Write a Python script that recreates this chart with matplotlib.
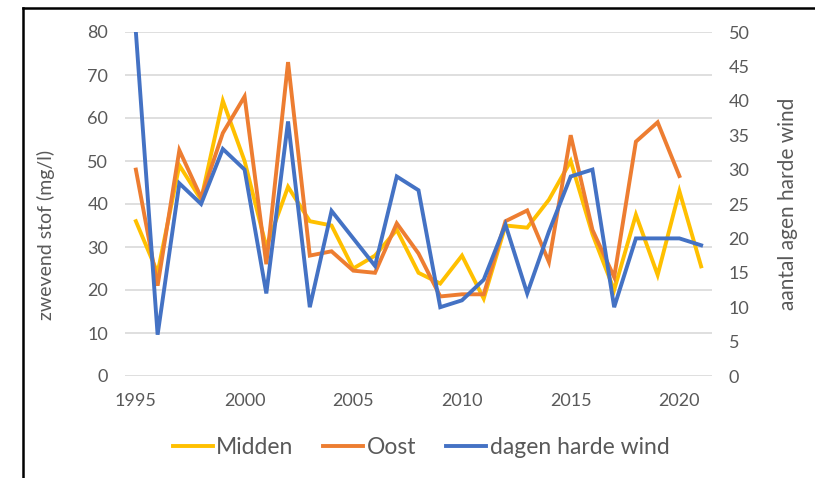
import numpy as np
import matplotlib; matplotlib.use("Agg")
import matplotlib.pyplot as plt
from matplotlib.lines import Line2D

plt.rcParams["font.family"] = ["Lato", "DejaVu Sans"]

years = list(range(1995, 2022))
midden = [36, 24, 49, 41, 64, 50, 30, 44, 36, 35, 25, 28, 34, 24, 21.5, 28, 18, 35, 34.5, 41,
          50, 33, 20, 37.5, 23.5, 43, 25.5]
oost = [48, 21, 52.5, 41.5, 56.5, 65, 26, 73, 28, 29, 24.5, 24, 35.5, 28.5, 18.5, 19, 19, 36,
        38.5, 26.5, 56, 34, 23, 54.5, 59, 46.5]
wind = [50, 6, 28, 25, 33, 30, 12, 37, 10, 24, 20, 16, 29, 27, 10, 11, 14, 22, 12, 21, 29, 30,
        10, 20, 20, 20, 19]
xticks = [1995, 2000, 2005, 2010, 2015, 2020]

C_MID, C_OOST, C_WIND = "#FFC000", "#ED7D31", "#4472C4"
GREY = "#595959"
LW = 2.8

fig = plt.figure(figsize=(8.15, 4.78), dpi=100)
ax = fig.add_axes([125/815, 1-376/478, 587/815, 344/478])
ax2 = ax.twinx()

ax.plot(years, midden, color=C_MID, lw=LW, solid_joinstyle="miter")
ax.plot(years[:len(oost)], oost, color=C_OOST, lw=LW, solid_joinstyle="miter")
ax2.plot(years, wind, color=C_WIND, lw=LW, solid_joinstyle="miter")

ax.set_xlim(1994.5, 2021.5)
ax.set_ylim(0, 80)
ax2.set_ylim(0, 50)
ax.set_yticks(range(0, 81, 10))
ax2.set_yticks(range(0, 51, 5))
ax.set_xticks(xticks)
ax.grid(axis="y", color="#d9d9d9", lw=1.2)
ax.set_axisbelow(True)

for a in (ax, ax2):
    for s in a.spines.values():
        s.set_visible(False)
    a.tick_params(length=0, labelsize=13, labelcolor=GREY, pad=12)

ax.set_ylabel("zwevend stof (mg/l)", fontsize=14, color=GREY)
ax.yaxis.set_label_coords(-0.119, 0.41)
ax2.set_ylabel("aantal agen harde wind", fontsize=15, color=GREY, rotation=90)
ax2.yaxis.set_label_coords(1.112, 0.5)

handles = [Line2D([], [], color=c, lw=LW) for c in (C_MID, C_OOST, C_WIND)]
fig.legend(handles, ["Midden", "Oost", "dagen harde wind"], loc="center",
           bbox_to_anchor=(421/815, 1-448/478), ncol=3, frameon=False,
           fontsize=16.5, handlelength=1.75, handletextpad=0.15, columnspacing=1.3,
           labelcolor=GREY)

# screenshot frame (top and left edges)
fig.add_artist(Line2D([23/815, 1], [1-8/478, 1-8/478], color="black", lw=1.8,
                      transform=fig.transFigure))
fig.add_artist(Line2D([23/815, 23/815], [0, 1-8/478], color="black", lw=1.8,
                      transform=fig.transFigure))

fig.savefig("out.png", dpi=100)
